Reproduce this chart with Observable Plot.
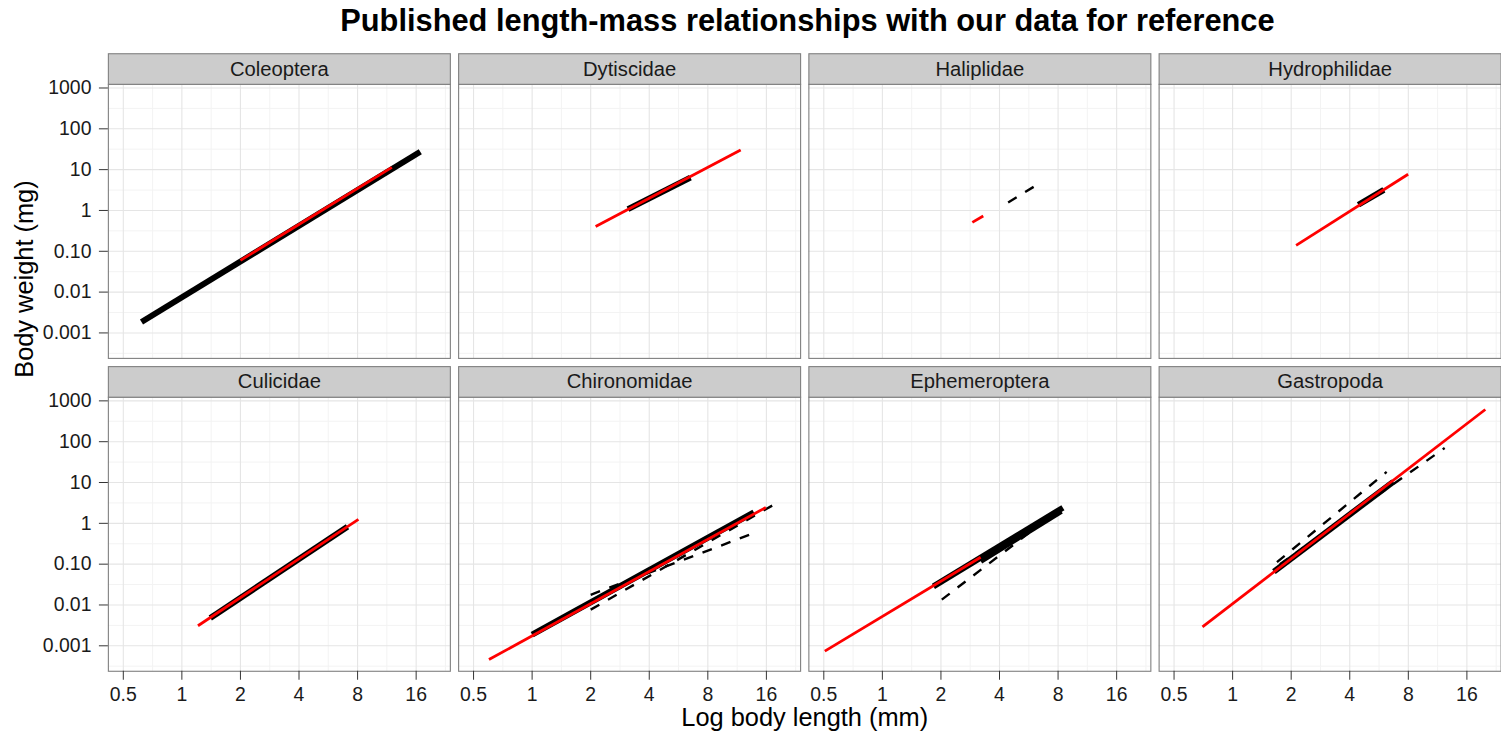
<!DOCTYPE html>
<html>
<head>
<meta charset="utf-8">
<script src="https://cdn.jsdelivr.net/npm/d3@7"></script>
<script src="https://cdn.jsdelivr.net/npm/@observablehq/plot@0.6"></script>
<style>
  html, body { margin: 0; padding: 0; background: #fff; overflow: hidden; }
  #title {
    font-family: "Liberation Sans", Arial, sans-serif;
    font-weight: bold;
    font-size: 30.8px;
    height: 40px;
    line-height: 41px;
    margin-left: 108.3px;
    width: 1398.3px;
    text-align: center;
    white-space: nowrap;
    color: #000;
  }
  #chart svg { display: block; }
</style>
</head>
<body>
<div id="title">Published length-mass relationships with our data for reference</div>
<div id="chart"></div>
<script>
// Panels, in reading order (4 per row)
const families = ["Coleoptera", "Dytiscidae", "Haliplidae", "Hydrophilidae",
                  "Culicidae", "Chironomidae", "Ephemeroptera", "Gastropoda"];

// Axis ticks (log2 length, log10 mass)
const xTicks = [0.5, 1, 2, 4, 8, 16];
const xTickLabels = ["0.5", "1", "2", "4", "8", "16"];
const yTicks = [0.001, 0.01, 0.1, 1, 10, 100, 1000];
const yTickLabels = ["0.001", "0.01", "0.10", "1", "10", "100", "1000"];

// Length-mass relationships: each one is a straight segment in log-log space,
// given by its length range (mm) and the predicted mass (mg) at both ends.
// kind: "published" (thick solid), "published-alt" (dashed), "ours" (red)
const lineFamily = [
  "Coleoptera", "Coleoptera",
  "Dytiscidae", "Dytiscidae",
  "Haliplidae", "Haliplidae",
  "Hydrophilidae", "Hydrophilidae",
  "Culicidae", "Culicidae",
  "Chironomidae", "Chironomidae", "Chironomidae", "Chironomidae",
  "Ephemeroptera", "Ephemeroptera", "Ephemeroptera", "Ephemeroptera",
  "Gastropoda", "Gastropoda", "Gastropoda", "Gastropoda"
];
const lineKind = [
  "published", "ours",
  "published", "ours",
  "ours", "published-alt",
  "published", "ours",
  "published", "ours",
  "published", "published-alt", "published-alt", "ours",
  "published", "published", "published-alt", "ours",
  "published", "published-alt", "published-alt", "ours"
];
const lengthFrom = [
  0.62, 2.0,
  3.11, 2.12,
  2.9, 4.43,
  4.43, 2.12,
  1.40, 1.21,
  1.0, 2.0, 2.0, 0.60,
  1.83, 3.2, 2.02, 0.506,
  1.63, 1.69, 1.75, 0.70
];
const lengthTo = [
  16.8, 12.0,
  6.51, 11.8,
  3.3, 5.99,
  5.99, 7.98,
  7.10, 8.08,
  13.8, 18.6, 13.05, 15.9,
  8.47, 8.3, 5.94, 3.2,
  6.69, 6.19, 12.3, 19.9
];
const massFrom = [
  0.00185, 0.060,
  1.08, 0.407,
  0.51, 1.57,
  1.38, 0.140,
  0.0048, 0.0031,
  0.00188, 0.0077, 0.0178, 0.00046,
  0.0286, 0.12, 0.0135, 0.00074,
  0.066, 0.112, 0.10, 0.0029
];
const massTo = [
  27.5, 11.4,
  6.38, 30.2,
  0.73, 3.78,
  3.2, 7.72,
  0.83, 1.25,
  1.85, 3.4, 0.52, 2.45,
  2.41, 2.0, 0.69, 0.148,
  10.4, 18.2, 70, 614
];

// Table for the marks, with the facet cell of each segment
const segments = lineFamily.map((family, i) => {
  const p = families.indexOf(family);
  return {
    family, kind: lineKind[i],
    col: p % 4, row: Math.floor(p / 4),
    x1: lengthFrom[i], x2: lengthTo[i], y1: massFrom[i], y2: massTo[i]
  };
});
const strips = families.map((name, p) => ({name, col: p % 4, row: Math.floor(p / 4)}));

// Layout
const width = 1507, height = 698;
const marginTop = 44, marginBottom = 64.7, marginLeft = 108.3, marginRight = 0.4;
const fyPad = 0.124, fxPad = 0.0236;
const stripH = 30.7;
const panelH = (height - marginTop - marginBottom) / (2 - fyPad) * (1 - fyPad);

const xDomain = [2 ** -1.255, 2 ** 4.584];
const yDomain = [10 ** -3.624, 10 ** 3.09];
const xMinor = xTicks.map(v => v * Math.SQRT2).filter(v => v > xDomain[0] && v < xDomain[1]);
const yMinor = yTicks.map(v => v / Math.sqrt(10)).filter(v => v > yDomain[0] && v < yDomain[1]);

const font = "'Liberation Sans', Arial, Helvetica, sans-serif";

const chart = Plot.plot({
  width, height, marginTop, marginBottom, marginLeft, marginRight,
  style: {fontFamily: font, fontSize: "19.5px", color: "#222", background: "#fff", overflow: "visible"},
  x: {type: "log", base: 2, domain: xDomain},
  y: {type: "log", domain: yDomain},
  fx: {domain: [0, 1, 2, 3], paddingInner: fxPad, paddingOuter: 0, round: false, axis: null},
  fy: {domain: [0, 1], paddingInner: fyPad, paddingOuter: 0, round: false, axis: null},
  marks: [
    // panel grid
    Plot.ruleX(xMinor, {stroke: "#F3F3F3", strokeWidth: 1}),
    Plot.ruleY(yMinor, {stroke: "#F3F3F3", strokeWidth: 1}),
    Plot.ruleX(xTicks, {stroke: "#E5E5E5", strokeWidth: 1.1}),
    Plot.ruleY(yTicks, {stroke: "#E5E5E5", strokeWidth: 1.1}),
    // relationships
    Plot.link(segments.filter(d => d.kind === "published"), {
      x1: "x1", y1: "y1", x2: "x2", y2: "y2", fx: "col", fy: "row",
      stroke: "#000", strokeWidth: 6, strokeLinecap: "butt"
    }),
    Plot.link(segments.filter(d => d.kind === "published-alt"), {
      x1: "x1", y1: "y1", x2: "x2", y2: "y2", fx: "col", fy: "row",
      stroke: "#000", strokeWidth: 2.4, strokeDasharray: "10,10", strokeLinecap: "butt"
    }),
    Plot.link(segments.filter(d => d.kind === "ours"), {
      x1: "x1", y1: "y1", x2: "x2", y2: "y2", fx: "col", fy: "row",
      stroke: "#FF0000", strokeWidth: 2.8, strokeLinecap: "butt"
    }),
    // panel border
    Plot.frame({stroke: "#7F7F7F", strokeWidth: 1.1}),
    // strip above each panel
    Plot.frame({fill: "#CCCCCC", stroke: "#7F7F7F", strokeWidth: 1.1,
                insetBottom: panelH - stripH, dy: -stripH}),
    Plot.text(strips, {fx: "col", fy: "row", text: "name", frameAnchor: "top",
                       dy: -stripH / 2, lineAnchor: "middle", fontSize: 20.3, fill: "#1a1a1a"}),
    // axes
    Plot.axisY(yTicks, {anchor: "left", tickSize: 9, tickPadding: 8, label: null,
                        tickFormat: d => yTickLabels[yTicks.indexOf(d)],
                        stroke: "#333", fill: "#1a1a1a", fontSize: 19.5}),
    Plot.axisX(xTicks, {anchor: "bottom", tickSize: 9, tickPadding: 7, label: null,
                        tickFormat: d => xTickLabels[xTicks.indexOf(d)],
                        stroke: "#333", fill: "#1a1a1a", fontSize: 19.5}),
    // axis titles
    Plot.text(["Log body length (mm)"], {text: d => d, facet: "super", frameAnchor: "bottom",
                                          dy: 46.8, lineAnchor: "middle", fontSize: 25.5, fill: "#000"}),
    Plot.text(["Body weight (mg)"], {text: d => d, facet: "super", frameAnchor: "left",
                                      dx: -84.3, rotate: -90, lineAnchor: "middle", fontSize: 25.5, fill: "#000"})
  ]
});
document.getElementById("chart").appendChild(chart);
</script>
</body>
</html>
